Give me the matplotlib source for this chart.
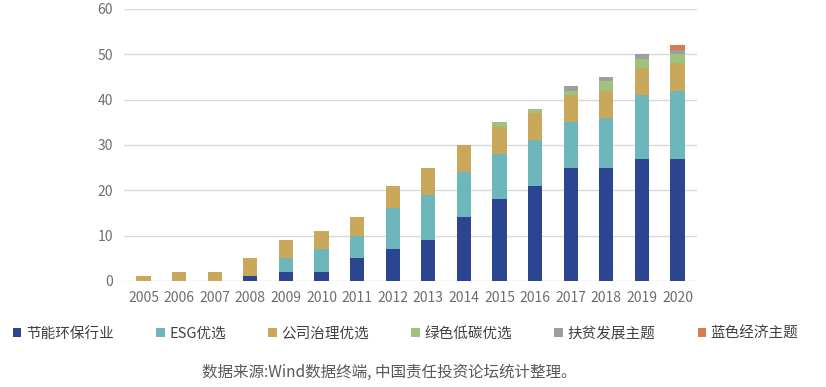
import numpy as np
import matplotlib
matplotlib.use('Agg')
from matplotlib import pyplot as plt

plt.rcParams['font.family'] = ['Noto Sans CJK SC', 'DejaVu Sans']

years = [str(y) for y in range(2005, 2021)]
jieneng = [0, 0, 0, 1, 2, 2, 5, 7, 9, 14, 18, 21, 25, 25, 27, 27]
esg = [0, 0, 0, 0, 3, 5, 5, 9, 10, 10, 10, 10, 10, 11, 14, 15]
gongsi = [1, 2, 2, 4, 4, 4, 4, 5, 6, 6, 6, 6, 6, 6, 6, 6]
lvse = [0, 0, 0, 0, 0, 0, 0, 0, 0, 0, 1, 1, 1, 2, 2, 2]
fupin = [0, 0, 0, 0, 0, 0, 0, 0, 0, 0, 0, 0, 1, 1, 1, 1]
lanse = [0, 0, 0, 0, 0, 0, 0, 0, 0, 0, 0, 0, 0, 0, 0, 1]

series = [
    ('节能环保行业', jieneng, '#2C4590'),
    ('ESG优选', esg, '#6CB6BC'),
    ('公司治理优选', gongsi, '#C9A75B'),
    ('绿色低碳优选', lvse, '#9EC37F'),
    ('扶贫发展主题', fupin, '#9E9EA0'),
    ('蓝色经济主题', lanse, '#DB7A4A'),
]

fig = plt.figure(figsize=(8.26, 3.87), dpi=100)
ax = fig.add_axes([0.150, 0.274, 0.694, 0.703])

x = np.arange(len(years))
bottom = np.zeros(len(years))
for name, vals, col in series:
    ax.bar(x, vals, 0.4, bottom=bottom, color=col, label=name, zorder=3)
    bottom += np.array(vals)

ax.set_ylim(0, 60)
ax.set_yticks(range(0, 61, 10))
ax.set_xlim(-0.55, 15.55)
ax.set_xticks(x)
ax.set_xticklabels(years)
ax.grid(axis='y', color='#D9D9D9', linewidth=1, zorder=0)
for s in ax.spines.values():
    s.set_visible(False)
ax.tick_params(length=0, labelsize=10, colors='#6E6E6E', pad=7)
ax.tick_params(axis='y', pad=8)

fig.legend(loc='center', bbox_to_anchor=(0.491, 0.138), ncol=6, frameon=False,
           fontsize=10.5, handlelength=0.6, handleheight=0.6, handletextpad=0.3,
           columnspacing=2.9, labelcolor='#404040')
fig.text(0.471, 0.038, '数据来源:Wind数据终端, 中国责任投资论坛统计整理。', ha='center',
         va='center', fontsize=11.2, color='#595959')

fig.savefig('out.png', dpi=100)
